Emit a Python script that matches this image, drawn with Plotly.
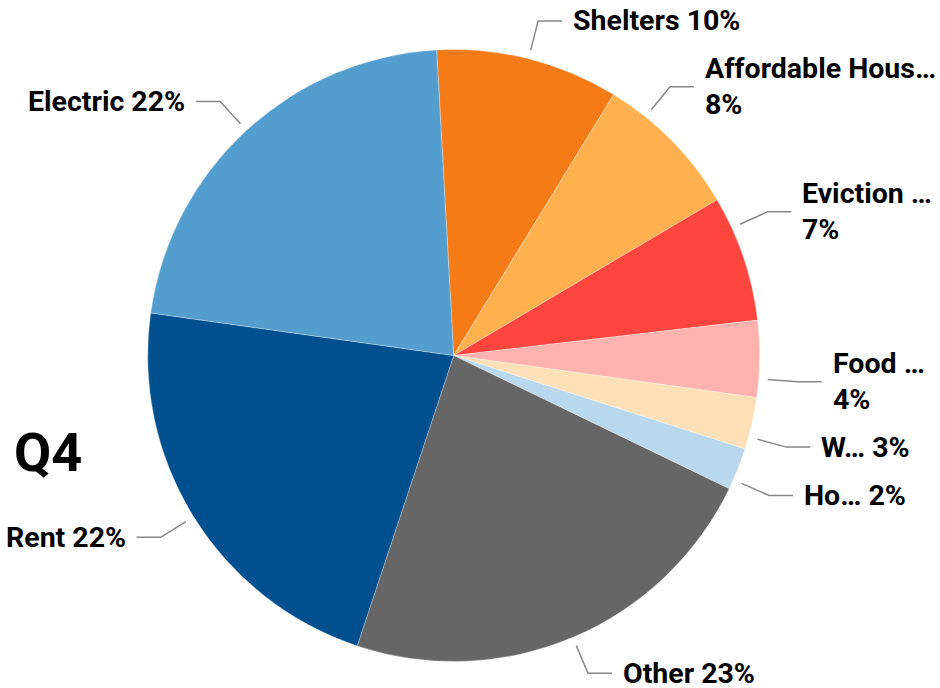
import math
import plotly.graph_objects as go

# ---- data ----
categories = ["Shelters", "Affordable Hous…", "Eviction …", "Food …", "W…", "Ho…", "Other", "Rent", "Electric"]
shares = [9.64, 7.75, 6.65, 4.04, 2.75, 2.22, 22.94, 22.11, 21.89]
pct_labels = ["10%", "8%", "7%", "4%", "3%", "2%", "23%", "22%", "22%"]
title_text = "Q4"

# ---- style ----
colors = ["#f57a18", "#ffb14f", "#ff463e", "#ffb2ae", "#fde0b7", "#b9d8ee", "#666666", "#00508f", "#539ecf"]
label_angle_nudge = [0, -6.65, -6.0, 3.75, 2.55, 2.15, 0, 0, 0]  # collision avoidance nudges (deg)
W, H = 940, 688
CX, CY, R = 453.7, 355.5, 306.0
ROTATION = -3.2
FONT = "Roboto"
FS = 28.5
LINE_H = 36
LINE_COLOR = "#888888"

fig = go.Figure(go.Pie(
    labels=categories, values=shares, sort=False, direction="clockwise",
    rotation=ROTATION, textinfo="none", hoverinfo="label+percent",
    marker=dict(colors=colors, line=dict(color="white", width=0.3)),
    domain=dict(x=[(CX - R) / W, (CX + R) / W], y=[(H - CY - R) / H, (H - CY + R) / H]),
    showlegend=False,
))

def px(x):
    return x / W

def py(y):
    return 1 - y / H

total = sum(shares)
cum = 0.0
shapes = []
annotations = []
for name, v, pct, nudge in zip(categories, shares, pct_labels, label_angle_nudge):
    mid = ROTATION + (cum + v / 2) / total * 360.0
    cum += v
    a = math.radians(mid + nudge)
    sx, sy = math.sin(a), -math.cos(a)
    x1, y1 = CX + (R + 9) * sx, CY + (R + 9) * sy
    x2, y2 = CX + (R + 39) * sx, CY + (R + 39) * sy
    side = 1 if sx >= 0 else -1
    x3 = x2 + side * 24
    tx = x3 + side * 9
    shapes.append(dict(type="path", xref="paper", yref="paper",
                       path=f"M {px(x1)},{py(y1)} L {px(x2)},{py(y2)} L {px(x3)},{py(y2)}",
                       line=dict(color=LINE_COLOR, width=1.5)))
    one_line = f"{name} {pct}"
    est_w = 0.5 * FS * len(one_line)
    if side == 1 and tx + est_w > W:
        lines = [name, pct]
    else:
        lines = [one_line]
    n = len(lines)
    for i, ln in enumerate(lines):
        yc = y2 + (i - (n - 1) / 2) * LINE_H
        annotations.append(dict(
            x=px(tx), y=py(yc), xref="paper", yref="paper",
            xanchor="left" if side == 1 else "right", yanchor="middle",
            text=f"<b>{ln}</b>", showarrow=False,
            font=dict(family=FONT, size=FS, color="#000000"),
        ))

annotations.append(dict(
    x=px(12), y=py(453), xref="paper", yref="paper", xanchor="left", yanchor="middle",
    text=f"<b>{title_text}</b>", showarrow=False,
    font=dict(family=FONT, size=54, color="#000000"),
))

fig.update_layout(
    width=W, height=H, margin=dict(l=0, r=0, t=0, b=0),
    paper_bgcolor="white", plot_bgcolor="white",
    shapes=shapes, annotations=annotations,
)

fig.write_html("out.html")
